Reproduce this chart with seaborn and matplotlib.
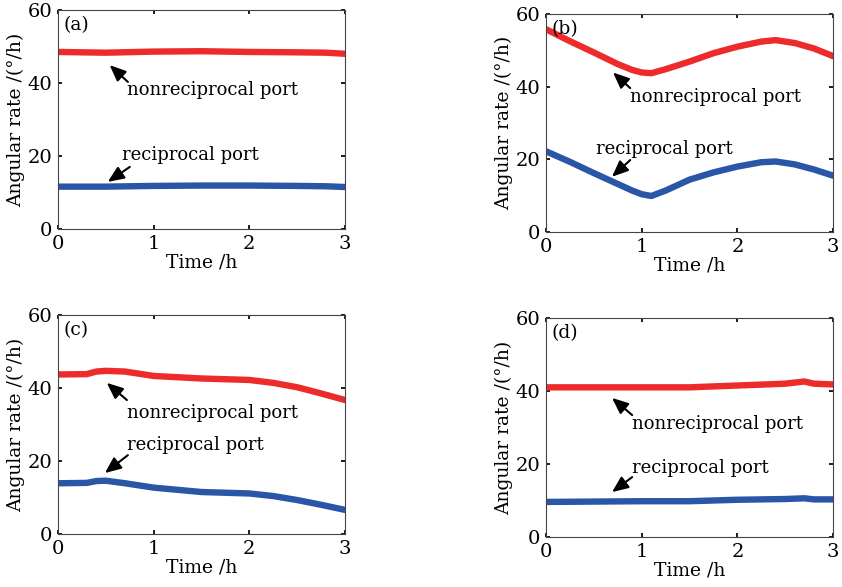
import numpy as np
import pandas as pd
import matplotlib
matplotlib.use("Agg")
import matplotlib.pyplot as plt
import seaborn as sns

# ================= 数据 =================
# (a)
t_a = [0.0, 0.5, 1.0, 1.5, 2.0, 2.5, 2.8, 3.0]
nonrecip_a = [48.5, 48.3, 48.6, 48.7, 48.5, 48.4, 48.3, 48.0]
recip_a = [11.6, 11.6, 11.8, 11.9, 11.9, 11.8, 11.7, 11.5]

# (b)
t_b = [0.0, 0.25, 0.5, 0.75, 0.9, 1.0, 1.1, 1.25, 1.5, 1.75, 2.0, 2.25, 2.4, 2.6, 2.8, 3.0]
nonrecip_b = [55.8, 52.5, 49.4, 46.2, 44.6, 43.9, 43.7, 44.8, 46.9, 49.2, 51.0, 52.4, 52.8, 52.0, 50.5, 48.4]
recip_b = [22.2, 19.3, 16.2, 13.2, 11.4, 10.4, 9.9, 11.4, 14.4, 16.4, 18.0, 19.2, 19.4, 18.6, 17.2, 15.5]

# (c)
t_c = [0.0, 0.3, 0.4, 0.5, 0.7, 1.0, 1.5, 2.0, 2.25, 2.5, 2.75, 3.0]
nonrecip_c = [43.7, 43.8, 44.5, 44.7, 44.5, 43.3, 42.6, 42.2, 41.4, 40.2, 38.5, 36.7]
recip_c = [13.9, 14.0, 14.5, 14.6, 13.9, 12.7, 11.5, 11.1, 10.4, 9.3, 8.0, 6.6]

# (d)
t_d = [0.0, 0.5, 1.0, 1.5, 2.0, 2.5, 2.7, 2.8, 3.0]
nonrecip_d = [41.0, 41.0, 41.0, 41.0, 41.5, 42.0, 42.6, 42.0, 41.8]
recip_d = [9.6, 9.7, 9.8, 9.8, 10.2, 10.4, 10.6, 10.3, 10.3]

panel_labels = ["(a)", "(b)", "(c)", "(d)"]
y_ticks = [0, 20, 40, 60]
x_ticks = [0, 1, 2, 3]

RED = "#EE2B2B"
BLUE = "#2A56A8"

panels = [
    (t_a, nonrecip_a, recip_a),
    (t_b, nonrecip_b, recip_b),
    (t_c, nonrecip_c, recip_c),
    (t_d, nonrecip_d, recip_d),
]

# 注释位置: (箭头头部, 箭头尾部, 文字左端) —— 非互易 / 互易
annots = [
    (((0.54, 44.9), (0.73, 40.3), (0.72, 38.1)), ((0.52, 12.9), (0.75, 17.0), (0.67, 20.3))),
    (((0.70, 43.9), (0.88, 39.6), (0.88, 37.2)), ((0.69, 15.2), (0.88, 19.8), (0.52, 22.8))),
    (((0.51, 41.4), (0.72, 36.7), (0.72, 33.2)), ((0.49, 16.7), (0.73, 21.6), (0.72, 24.4))),
    (((0.69, 38.1), (0.90, 33.4), (0.90, 31.0)), ((0.69, 12.3), (0.90, 16.4), (0.90, 18.9))),
]

axes_rects = [
    [0.0689, 0.6099, 0.3409, 0.3731],
    [0.6485, 0.6048, 0.3409, 0.3714],
    [0.0689, 0.0903, 0.3409, 0.3731],
    [0.6485, 0.0852, 0.3409, 0.3731],
]

# ================= 绘图 =================
sns.set_theme(style="ticks")
plt.rcParams['font.family'] = ['DejaVu Serif']
plt.rcParams['mathtext.fontset'] = 'dejavuserif'
plt.rcParams['text.color'] = 'black'
plt.rcParams['axes.labelcolor'] = 'black'
plt.rcParams['xtick.color'] = 'black'
plt.rcParams['ytick.color'] = 'black'

fig = plt.figure(figsize=(8.42, 5.87), dpi=100)

for i, (t, nr, rc) in enumerate(panels):
    ax = fig.add_axes(axes_rects[i])
    df = pd.DataFrame({"t": t, "nr": nr, "rc": rc})
    sns.lineplot(data=df, x="t", y="nr", color=RED, linewidth=4.6, ax=ax)
    sns.lineplot(data=df, x="t", y="rc", color=BLUE, linewidth=4.6, ax=ax)

    ax.set_xlim(0, 3)
    ax.set_ylim(0, 60)
    ax.set_xticks(x_ticks)
    ax.set_yticks(y_ticks)
    ax.tick_params(direction="in", length=3, labelsize=14, top=True, right=True,
                   pad=4)
    for s in ax.spines.values():
        s.set_color("#444444")
        s.set_linewidth(0.8)
    ax.set_xlabel("Time /h", fontsize=13.5, labelpad=1)
    ax.set_ylabel("Angular rate /(°/h)", fontsize=13.5, labelpad=2)

    ax.text(0.02, 0.97, panel_labels[i], transform=ax.transAxes, fontsize=13.5,
            va="top", ha="left")

    (nr_head, nr_tail, nr_txt), (rc_head, rc_tail, rc_txt) = annots[i]
    for head, tail, txt, label in [(nr_head, nr_tail, nr_txt, "nonreciprocal port"),
                                   (rc_head, rc_tail, rc_txt, "reciprocal port")]:
        ax.annotate("", xy=head, xytext=tail,
                    arrowprops=dict(arrowstyle="-|>,head_length=0.7,head_width=0.3",
                                    color="black", lw=1.5,
                                    mutation_scale=14, shrinkA=0, shrinkB=0))
        ax.text(txt[0], txt[1], label, fontsize=13, va="center", ha="left")

plt.savefig("out.png", dpi=100)
